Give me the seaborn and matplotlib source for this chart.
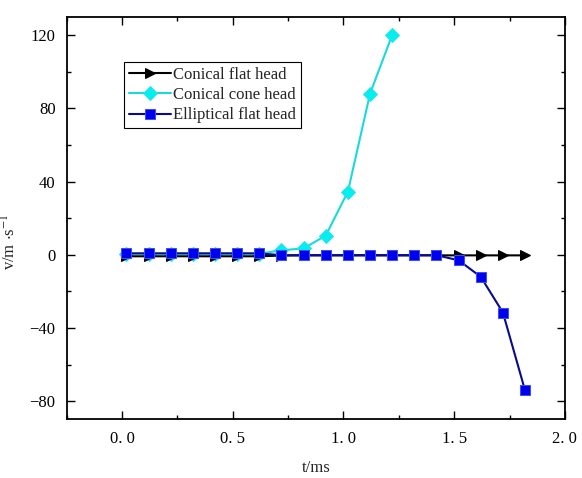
import numpy as np
import pandas as pd
import seaborn as sns
import matplotlib
matplotlib.use("Agg")
import matplotlib.pyplot as plt
from matplotlib.ticker import MultipleLocator

# time stamps (ms)
t_ms = [0.02, 0.12, 0.22, 0.32, 0.42, 0.52, 0.62, 0.72, 0.82, 0.92,
        1.02, 1.12, 1.22, 1.32, 1.42, 1.52, 1.62, 1.72, 1.82]

# velocity (m/s) for each head shape
conical_flat = [-0.8, -0.8, -0.8, -0.8, -0.8, -0.8, -0.8, -0.4, -0.3, -0.3,
                -0.3, -0.3, -0.3, -0.3, -0.3, -0.3, -0.3, -0.3, -0.3]
t_cone = [0.02, 0.12, 0.22, 0.32, 0.42, 0.52, 0.62, 0.72, 0.82, 0.92,
          1.02, 1.12, 1.22]
conical_cone = [0.6, 0.6, 0.6, 0.6, 0.6, 0.6, 0.6, 2.5, 3.5, 10.5,
                34.5, 88.0, 120.0]
elliptical_flat = [0.8, 0.8, 0.8, 0.8, 0.8, 0.8, 0.8, -0.2, -0.2, -0.2,
                   -0.2, -0.2, -0.2, -0.2, -0.2, -3.0, -12.0, -31.5, -74.0]

series_names = ["Conical flat head", "Conical cone head", "Elliptical flat head"]
x_tick_labels = ["0. 0", "0. 5", "1. 0", "1. 5", "2. 0"]

sns.set_theme(style="ticks")
plt.rcParams["font.family"] = ["Liberation Serif", "DejaVu Serif"]
plt.rcParams["mathtext.fontset"] = "stix"

fig = plt.figure(figsize=(5.82, 4.78), dpi=100)
ax = fig.add_axes([0.1146, 0.124, 0.856, 0.841])

df_flat = pd.DataFrame({"t": t_ms, "v": conical_flat})
df_cone = pd.DataFrame({"t": t_cone, "v": conical_cone})
df_ell = pd.DataFrame({"t": t_ms, "v": elliptical_flat})

sns.lineplot(data=df_flat, x="t", y="v", ax=ax, color="black", marker=">",
             markersize=7.5, markeredgecolor="black", markerfacecolor="black",
             linewidth=1.5, label=series_names[0], zorder=3)
sns.lineplot(data=df_cone, x="t", y="v", ax=ax, color="#19D9DD", marker="D",
             markersize=7, markeredgecolor="#30E0E8", markerfacecolor="#00F0F0",
             linewidth=1.5, label=series_names[1], zorder=2)
sns.lineplot(data=df_ell, x="t", y="v", ax=ax, color="#0A0A8C", marker="s",
             markersize=7.5, markeredgecolor="#3A50F0", markerfacecolor="#0000F0",
             linewidth=1.5, label=series_names[2], zorder=4)

ax.set_xlim(-0.25, 2.0)
ax.set_ylim(-89.5, 130)
ax.xaxis.set_minor_locator(MultipleLocator(0.25))
ax.yaxis.set_major_locator(MultipleLocator(40))
ax.yaxis.set_minor_locator(MultipleLocator(20))
ax.set_xticks([0.0, 0.5, 1.0, 1.5, 2.0])
ax.set_xticklabels(x_tick_labels)

ax.tick_params(which="both", direction="in", top=True, right=True,
               labelsize=12, colors="black", width=1.0)
ax.tick_params(which="major", length=6)
ax.tick_params(which="minor", length=3)
ax.tick_params(axis="x", which="major", pad=9)
ax.tick_params(axis="y", which="major", pad=8)
for s in ax.spines.values():
    s.set_linewidth(1.3)
    s.set_color("black")

ax.set_xlabel("t/ms", fontsize=12, labelpad=9)
ax.set_ylabel(r"v/m $\cdot$s$^{\mathrm{-1}}$", fontsize=12)
ax.yaxis.set_label_coords(-0.094, 0.44)

leg = ax.legend(loc="upper left", bbox_to_anchor=(0.115, 0.887), fontsize=12,
                frameon=True, fancybox=False, edgecolor="black", framealpha=1,
                borderpad=0.3, labelspacing=0.25, handlelength=2.5,
                handletextpad=0.15, borderaxespad=0)
leg.get_frame().set_linewidth(0.8)

fig.savefig("out.png", dpi=100)
